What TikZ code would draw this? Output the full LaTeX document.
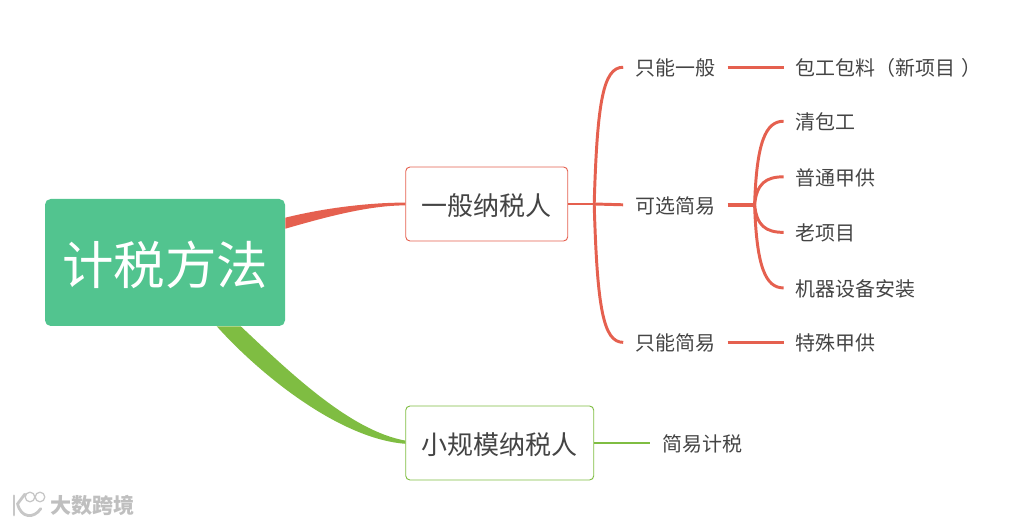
\documentclass[tikz,border=0pt]{standalone}
\usepackage{fontspec}
\setmainfont{Noto Sans CJK SC}
\usepackage{xcolor}
\usetikzlibrary{positioning,calc}
\definecolor{rootgreen}{HTML}{52C48F}
\definecolor{redline}{HTML}{E5604F}
\definecolor{greenline}{HTML}{7FBD42}
\definecolor{inktext}{HTML}{444444}

\begin{document}
\begin{tikzpicture}[
    rootbox/.style={fill=rootgreen, rounded corners=4pt, text=white,
                minimum width=6cm, minimum height=3.175cm, inner sep=0pt,
                text height=1.3cm, text depth=0.2cm,
                font=\fontsize{36.6}{40}\selectfont},
    box/.style={draw=#1, rounded corners=3pt, fill=white, text=inktext, line width=0.65pt,
                minimum height=1.85cm, inner sep=0pt,
                text height=0.7cm, text depth=0.106cm,
                font=\fontsize{18.5}{22}\selectfont},
    leaf/.style={text=inktext, inner xsep=0.3cm, inner ysep=0pt, minimum height=0.6cm,
                text height=0.48cm, text depth=0.05cm,
                font=\fontsize{14.2}{17}\selectfont},
    wire/.style={line width=2.1pt, color=#1},
    wire/.default=redline,
    fatwire/.style={line width=3pt, color=redline},
    stamp/.style={text=black!25, inner sep=0pt, font=\fontsize{15}{18}\selectfont\bfseries},
    logo/.style={draw=black!22, line width=2pt, line cap=round},
  ]
  \useasboundingbox (0,0) rectangle (25.825,13.075);

  \node[rootbox] (root) at (4.125,6.5125) {计税方法};
  \node[box=redline, minimum width=4.05cm, right=3 of root, yshift=1.4625cm] (general) {一般纳税人};
  \node[box=greenline, minimum width=4.7cm, right=3 of root, yshift=-4.5125cm] (small) {小规模纳税人};

  % general branch
  \node[leaf, right=1.375 of general, yshift=-0.02cm] (choose) {可选简易};
  \node[leaf, above=2.825 of choose] (onlygen) {只能一般};
  \node[leaf, below=2.825 of choose] (onlysim) {只能简易};
  \node[leaf, right=1.4 of onlygen] (newproj) {包工包料（新项目\kern0.3em）};
  \node[leaf, right=1.4 of onlysim] (special) {特殊甲供};
  \node[leaf, right=1.4 of choose, yshift=0.7cm] (common) {普通甲供};
  \node[leaf, above=0.775 of common.north west, anchor=south west] (labour) {清包工};
  \node[leaf, below=0.775 of common.south west, anchor=north west] (oldproj) {老项目};
  \node[leaf, below=0.775 of oldproj.south west, anchor=north west] (machine) {机器设备安装};

  % small branch
  \node[leaf, right=1.4 of small] (simple) {简易计税};

  \coordinate (hubgen) at ($(general.east)+(0.65,0)$);
  \coordinate (hubopt) at ($(choose.east)+(0.675,0)$);

  % tapered links out of the root
  \fill[redline] ($(root.north east)+(0,-0.475)$) .. controls +(1,0.25) and +(-0.875,0) .. ($(general.west)+(0,0.035)$)
    -- ($(general.west)+(0,-0.035)$) .. controls +(-0.875,0) and +(1.125,0.325) .. ($(root.north east)+(0,-0.75)$) -- cycle;
  \fill[greenline] ($(root.south west)+(4.9,0)$) .. controls +(1.25,-1.175) and +(-1.375,0.25) .. ($(small.west)+(0,0.06)$)
    -- ($(small.west)+(0,-0.02)$) .. controls +(-1.625,0.125) and +(1.125,-1.25) .. ($(root.south west)+(4.3,0)$) -- cycle;

  \draw[wire] (general.east) -- (hubgen);
  \draw[wire] (hubgen) -- (choose.west);
  \foreach \tip in {onlygen,onlysim}
    \draw[wire] (hubgen) .. controls ($(hubgen)!0.75!(hubgen|-\tip.west)+(0.075,0)$) and ($(\tip.west)+(-0.5,0)$) .. (\tip.west);

  \draw[fatwire] (choose.east) -- (hubopt);
  \foreach \tip in {labour,common,oldproj,machine}
    \draw[wire] (hubopt) .. controls ($(hubopt)!0.75!(hubopt|-\tip.west)+(0.05,0)$) and ($(\tip.west)+(-0.45,0)$) .. (\tip.west);

  \draw[wire] (onlygen) -- (newproj);
  \draw[wire] (onlysim) -- (special);
  \draw[wire=greenline] (small) -- (simple);

  % watermark
  \node[stamp, anchor=west] (brand) at (1.25,0.45) {大数跨境};
  \draw[logo] (0.35,0.68) -- (0.35,0.2);
  \draw[logo] (0.62,0.72) -- (0.44,0.48) .. controls (0.52,0.12) and (0.85,0.1) .. (1.02,0.36);
  \draw[logo, line width=0.9pt] (0.75,0.65) circle (0.12);
  \draw[logo, line width=0.9pt] (1.0,0.65) circle (0.12);
\end{tikzpicture}
\end{document}
